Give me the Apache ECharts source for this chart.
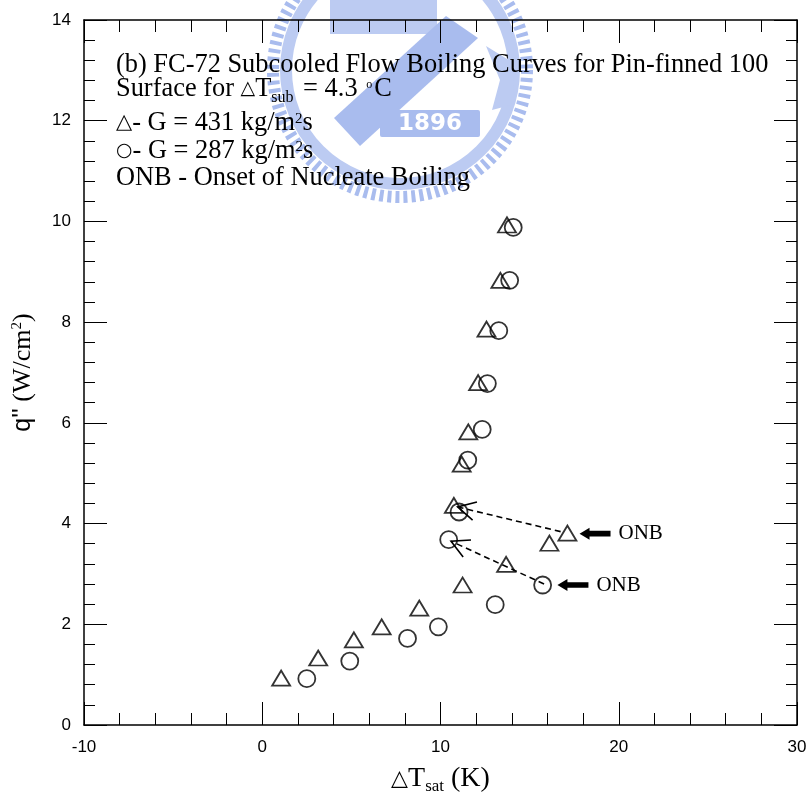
<!DOCTYPE html>
<html>
<head>
<meta charset="utf-8">
<script src="https://cdn.jsdelivr.net/npm/echarts@6/dist/echarts.min.js"></script>
<style>html,body{margin:0;padding:0;background:#fff;}#c{width:811px;height:800px;}</style>
</head>
<body>
<div id="c"></div>
<script>
// ---- data ----
const xMin = -10, xMax = 30, xStep = 10;
const yMin = 0, yMax = 14, yStep = 2;

// triangles: G = 431 kg/m2s
const triX = [1.06, 3.14, 5.14, 6.70, 8.81, 11.24, 13.68, 16.11, 17.12, 10.75, 11.19, 11.56, 12.11, 12.58, 13.36, 13.73];
const triY = [0.93, 1.33, 1.69, 1.95, 2.32, 2.78, 3.19, 3.61, 3.81, 4.36, 5.18, 5.82, 6.80, 7.86, 8.83, 9.93];
// circles: G = 287 kg/m2s
const cirX = [2.50, 4.91, 8.15, 9.88, 13.07, 15.73, 10.46, 11.04, 11.53, 12.34, 12.63, 13.27, 13.88, 14.08];
const cirY = [0.92, 1.27, 1.72, 1.95, 2.39, 2.78, 3.68, 4.23, 5.26, 5.87, 6.78, 7.83, 8.83, 9.88];

// dashed arrows (from -> to)
const dashX0 = [16.74, 15.81];
const dashY0 = [3.84, 2.80];
const dashX1 = [10.96, 10.59];
const dashY1 = [4.33, 3.65];

// ONB pointers (arrow tip)
const onbTipX = [17.80, 16.56];
const onbTipY = [3.80, 2.78];
const onbText = ['ONB', 'ONB'];

const noteLines = [
  '{n|(b) FC-72 Subcooled Flow Boiling Curves for Pin-finned 100}',
  '{n|Surface for }{sym|△}{n|T}{sub|sub}{n| = 4.3 }{deg|o}{n|C}',
  '{sym2|△}{n|- G = 431 kg/m}{sup|2}{n|s}',
  '{circ|○}{n|- G = 287 kg/m}{sup|2}{n|s}',
  '{n|ONB - Onset of Nucleate Boiling}'
];
const xName = '{sym|△}{t|T}{sub|sat}{t| (K)}';
const yName = '{q|q\'\'}{t| (W/cm}{sup|2}{t|)}';
const watermarkText = '1896';

// ---- layout ----
const SERIF = 'Liberation Serif, Times New Roman, serif';
const SANS = 'Liberation Sans, Arial, sans-serif';
const noteBaselines = [74, 98.3, 131.7, 160, 187.3];
const noteFont = 26.4;

const chart = echarts.init(document.getElementById('c'), null, {renderer: 'canvas'});

const noteRich = {
  n: {fontFamily: SERIF, fontSize: noteFont, lineHeight: 30, fill: '#000', color: '#000'},
  sub: {fontFamily: SERIF, fontSize: 16, lineHeight: 30, padding: [17, 3, 0, 0], fill: '#000', color: '#000'},
  deg: {fontFamily: SERIF, fontSize: 12, lineHeight: 30, padding: [0, 2, 9, 2], fill: '#000', color: '#000'},
  sup: {fontFamily: SERIF, fontSize: 15, lineHeight: 30, padding: [0, 0, 8, 0], fill: '#000', color: '#000'},
  sym: {fontFamily: 'DejaVu Sans', fontSize: 19, lineHeight: 30, fill: '#000', color: '#000'},
  sym2: {fontFamily: 'DejaVu Sans', fontSize: 21, lineHeight: 30, fill: '#000', color: '#000'},
  circ: {fontFamily: 'DejaVu Sans', fontSize: 19, lineHeight: 30, fill: '#000', color: '#000'}
};

const graphics = [];
// watermark approximation (faint university emblem behind the plot)
const wm1 = '#a9bcee', wm2 = '#bccbf2';
graphics.push({type: 'circle', z: -10, silent: true, shape: {cx: 400, cy: 70, r: 127},
  style: {stroke: wm1, lineWidth: 12, fill: null, lineDash: [4, 4]}});
graphics.push({type: 'circle', z: -10, silent: true, shape: {cx: 400, cy: 70, r: 114},
  style: {stroke: wm2, lineWidth: 12, fill: null}});
graphics.push({type: 'rect', z: -10, silent: true, shape: {x: 330, y: 0, width: 107, height: 34},
  style: {fill: wm2}});
graphics.push({type: 'polygon', z: -9, silent: true, shape: {points: [[446, 16], [478, 38], [360, 146], [334, 118]]},
  style: {fill: wm1}});
graphics.push({type: 'polygon', z: -10, silent: true, shape: {points: [[486, 46], [512, 62], [515, 104], [492, 110], [500, 80]]},
  style: {fill: wm2}});
graphics.push({type: 'rect', z: -9, silent: true, shape: {x: 380, y: 110, width: 100, height: 27, r: 2},
  style: {fill: wm1}});
graphics.push({type: 'text', z: -8, silent: true, x: 430, y: 124,
  style: {text: watermarkText, fill: '#fff', font: 'bold 23px DejaVu Sans', align: 'center', verticalAlign: 'middle'}});

noteLines.forEach((t, i) => {
  graphics.push({
    type: 'text', z: 100, silent: true,
    x: 116, y: noteBaselines[i] - 0.3375 * noteFont,
    style: {text: t, rich: noteRich, fontFamily: SERIF, fontSize: noteFont, lineHeight: 30, fill: '#000', align: 'left', verticalAlign: 'middle'}
  });
});

const axisCommon = {
  type: 'value',
  min: xMin, max: xMax, interval: xStep,
  axisLine: {show: true, onZero: false, lineStyle: {color: '#000', width: 1.5}},
  axisTick: {show: true, inside: true, length: 23, lineStyle: {color: '#000', width: 1}},
  minorTick: {show: true, splitNumber: 5, length: 12, lineStyle: {color: '#000', width: 1}},
  splitLine: {show: false},
  minorSplitLine: {show: false}
};

const option = {
  animation: false,
  backgroundColor: '#fff',
  grid: {left: 82, right: 14, top: 20, bottom: 66, containLabel: false},
  xAxis: [
    Object.assign({}, axisCommon, {
      position: 'bottom',
      axisLabel: {color: '#000', fontFamily: SANS, fontSize: 17, margin: 14},
      name: xName, nameLocation: 'middle', nameGap: 39,
      nameTextStyle: {
        color: '#000', fontFamily: SERIF, fontSize: 27, lineHeight: 30,
        rich: {
          sym: {fontFamily: 'DejaVu Sans', fontSize: 22, lineHeight: 30, color: '#000'},
          t: {fontFamily: SERIF, fontSize: 28, lineHeight: 30, color: '#000'},
          sub: {fontFamily: SERIF, fontSize: 17, lineHeight: 30, padding: [15, 0, 0, 0], color: '#000'}
        }
      }
    }),
    Object.assign({}, axisCommon, {position: 'top', axisLabel: {show: false}})
  ],
  yAxis: [
    Object.assign({}, axisCommon, {
      min: yMin, max: yMax, interval: yStep,
      position: 'left',
      minorTick: {show: true, splitNumber: 5, length: 11, lineStyle: {color: '#000', width: 1}},
      axisLabel: {color: '#000', fontFamily: SANS, fontSize: 17, margin: 13},
      name: yName, nameLocation: 'middle', nameGap: 46, nameRotate: 90,
      nameTextStyle: {
        color: '#000', fontFamily: SERIF, fontSize: 26, lineHeight: 30,
        rich: {
          q: {fontFamily: SANS, fontSize: 25, lineHeight: 30, color: '#000'},
          t: {fontFamily: SERIF, fontSize: 26, lineHeight: 30, color: '#000'},
          sup: {fontFamily: SERIF, fontSize: 15, lineHeight: 30, padding: [0, 0, 12, 0], color: '#000'}
        }
      }
    }),
    Object.assign({}, axisCommon, {
      min: yMin, max: yMax, interval: yStep,
      position: 'right',
      minorTick: {show: true, splitNumber: 5, length: 11, lineStyle: {color: '#000', width: 1}},
      axisLabel: {show: false}
    })
  ],
  graphic: graphics,
  series: [
    {
      type: 'scatter', name: 'G = 431', xAxisIndex: 0, yAxisIndex: 0,
      data: triX.map((x, i) => [x, triY[i]]),
      symbol: 'triangle', symbolSize: [18, 15],
      itemStyle: {color: 'rgba(0,0,0,0)', borderColor: '#000', borderWidth: 1.8},
      z: 5
    },
    {
      type: 'scatter', name: 'G = 287', xAxisIndex: 0, yAxisIndex: 0,
      data: cirX.map((x, i) => [x, cirY[i]]),
      symbol: 'circle', symbolSize: 17,
      itemStyle: {color: 'rgba(0,0,0,0)', borderColor: '#000', borderWidth: 1.8},
      z: 5
    },
    {
      type: 'custom', xAxisIndex: 0, yAxisIndex: 0, silent: true, z: 6,
      data: dashX0.map((x, i) => [x, dashY0[i], dashX1[i], dashY1[i]]),
      encode: {x: [0, 2], y: [1, 3]},
      renderItem: function (params, api) {
        const p0 = api.coord([api.value(0), api.value(1)]);
        const p1 = api.coord([api.value(2), api.value(3)]);
        const ang = Math.atan2(p0[1] - p1[1], p0[0] - p1[0]);
        const L = 20, a = 28 * Math.PI / 180;
        const arm = s => [p1[0] + L * Math.cos(ang + s * a), p1[1] + L * Math.sin(ang + s * a)];
        return {
          type: 'group',
          children: [
            {type: 'line', shape: {x1: p0[0], y1: p0[1], x2: p1[0], y2: p1[1]},
              style: {stroke: '#000', lineWidth: 1.6, lineDash: [6, 4], fill: null}},
            {type: 'polyline', shape: {points: [arm(1), p1, arm(-1)]},
              style: {stroke: '#000', lineWidth: 1.6, fill: null}}
          ]
        };
      }
    },
    {
      type: 'custom', xAxisIndex: 0, yAxisIndex: 0, silent: true, z: 6,
      data: onbTipX.map((x, i) => [x, onbTipY[i], i]),
      encode: {x: 0, y: 1},
      renderItem: function (params, api) {
        const p = api.coord([api.value(0), api.value(1)]);
        const x = p[0], y = p[1];
        const idx = api.value(2);
        return {
          type: 'group',
          children: [
            {type: 'polygon', shape: {points: [
              [x, y], [x + 10, y - 6], [x + 10, y - 2.8], [x + 31, y - 2.8],
              [x + 31, y + 2.8], [x + 10, y + 2.8], [x + 10, y + 6]]},
              style: {fill: '#000'}},
            {type: 'text', x: x + 39, y: y,
              style: {text: onbText[idx], fill: '#000', fontFamily: SERIF, fontSize: 21, align: 'left', verticalAlign: 'middle'}}
          ]
        };
      }
    }
  ]
};
chart.setOption(option);
</script>
</body>
</html>
